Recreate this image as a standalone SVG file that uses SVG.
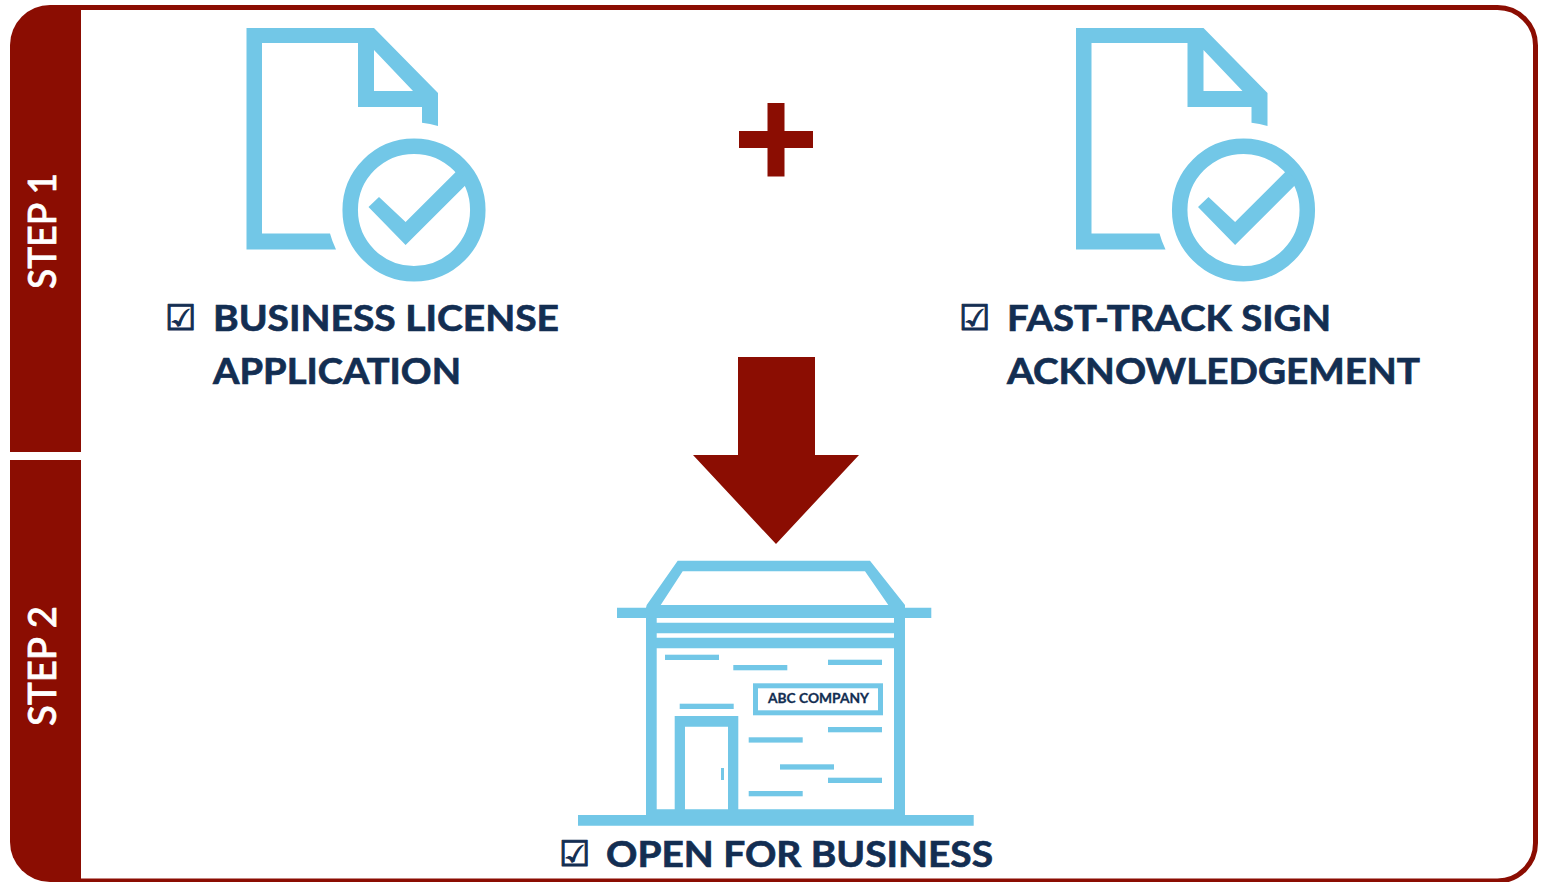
<svg xmlns="http://www.w3.org/2000/svg" width="1546" height="882" viewBox="0 0 1546 882">
<style>
.red{fill:#8B0D02}
.blue{fill:#72C7E7}
.lbl{font-family:"Lato","Liberation Sans",sans-serif;font-weight:700;font-size:37px;fill:#132E52;stroke:#132E52;stroke-width:.7px}
.chk{font-family:"DejaVu Sans",sans-serif;font-size:35px;fill:#132E52;stroke:#132E52;stroke-width:1.100px}
.step{font-family:"Lato","Liberation Sans",sans-serif;font-weight:500;font-size:38px;fill:#fff;stroke:#fff;stroke-width:.7px}
</style>
<defs>
<g id="doc">
<path class="blue" fill-rule="evenodd" d="M246.500 28H374L438 93V126Q430 123.500 422 122.700V107H358V43H262V233.500H330Q332 241 336 249.500H246.500ZM374 50V91H413Z"/>
<circle cx="414" cy="210" r="63.800" fill="none" stroke="#72C7E7" stroke-width="15.500"/>
<path class="blue" d="M368.500 207L379 197L405.600 222L458 169.700L468 182.700L405.600 245Z"/>
</g>
</defs>
<path id="frame" d="M60 7.500H1497.500A38 38 0 0 1 1535.500 45.500V843A38 38 0 0 1 1497.500 881H60" fill="#fff" stroke="#8B0D02" stroke-width="5"/>
<g id="step-1">
<path class="red" d="M81 452H10V45A40 40 0 0 1 50 5H81Z"/>
<text class="step" transform="translate(56 289) rotate(-90)" textLength="116" lengthAdjust="spacingAndGlyphs">STEP 1</text>
</g>
<g id="step-2">
<path class="red" d="M10 460H81V882H50A40 40 0 0 1 10 842Z"/>
<text class="step" transform="translate(56 726) rotate(-90)" textLength="120" lengthAdjust="spacingAndGlyphs">STEP 2</text>
</g>
<g id="business-license">
<use href="#doc"/>
<text class="chk" x="165" y="330">☑</text>
<text class="lbl" x="213" y="331" textLength="346" lengthAdjust="spacingAndGlyphs">BUSINESS LICENSE</text>
<text class="lbl" x="213" y="384" textLength="248" lengthAdjust="spacingAndGlyphs">APPLICATION</text>
</g>
<g id="plus">
<path class="red" d="M767.500 103H784.500V131H813V148H784.500V176.500H767.500V148H739V131H767.500Z"/>
</g>
<g id="fast-track">
<use href="#doc" x="829.500"/>
<text class="chk" x="959" y="330">☑</text>
<text class="lbl" x="1007" y="331" textLength="324" lengthAdjust="spacingAndGlyphs">FAST-TRACK SIGN</text>
<text class="lbl" x="1007" y="384" textLength="413" lengthAdjust="spacingAndGlyphs">ACKNOWLEDGEMENT</text>
</g>
<g id="connectors">
<path class="red" d="M738 357H815V455H859L776 544L693 455H738Z"/>
</g>
<g id="open-for-business">
<path class="blue" fill-rule="evenodd" d="M646.700 605L677.700 560.700H870L905 605V607.700H931.300V618H905V815H973.700V825.700H578V815H646V618H617V607.700H646ZM660.700 605H888.300L865 571.300H682.700ZM656.700 618V622.700H894V618ZM656.700 633.300V637.700H894V633.300ZM656.700 648.300V809.300H674.700V716H738.300V809.300H894V648.300ZM685 726.700V809.300H728V726.700Z"/>
<g class="blue">
<rect x="721" y="768" width="3" height="12"/>
<rect x="665" y="654.700" width="54" height="5.300"/>
<rect x="733.300" y="665" width="54" height="5.300"/>
<rect x="828" y="659.700" width="54" height="5.300"/>
<rect x="679.700" y="703.700" width="54" height="5.300"/>
<rect x="828" y="727" width="54" height="5.300"/>
<rect x="748.700" y="737.300" width="54" height="5.300"/>
<rect x="780" y="764.300" width="54" height="5.300"/>
<rect x="828" y="777.700" width="54" height="5.300"/>
<rect x="748.700" y="791" width="54" height="5.300"/>
</g>
<rect x="755.500" y="685.800" width="125" height="27" fill="#fff" stroke="#72C7E7" stroke-width="5"/>
<text x="768" y="703" font-family="Lato, 'Liberation Sans', sans-serif" font-weight="700" font-size="14" fill="#132E52" stroke="#132E52" stroke-width=".3" textLength="101" lengthAdjust="spacingAndGlyphs">ABC COMPANY</text>
<text class="chk" x="559" y="866">☑</text>
<text class="lbl" x="606" y="867" textLength="387" lengthAdjust="spacingAndGlyphs">OPEN FOR BUSINESS</text>
</g>
</svg>
